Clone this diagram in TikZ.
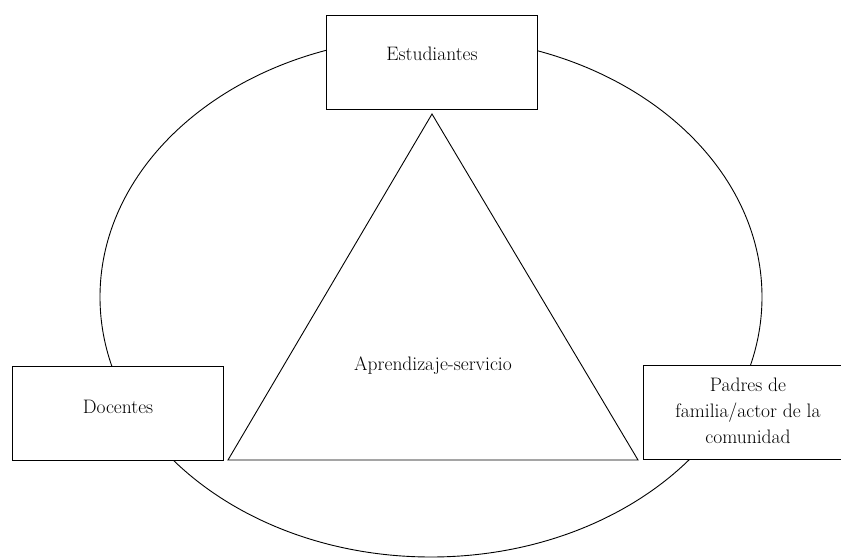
\documentclass[tikz,border=0pt]{standalone}
\usetikzlibrary{shapes.geometric}
\begin{document}
\begin{tikzpicture}[x=1pt,y=-1pt,
  boxstyle/.style={draw=black, line width=1.1pt, fill=white, rectangle, minimum width=211pt, minimum height=94pt, inner sep=0pt, anchor=north west},
  txt/.style={font=\fontsize{19.5}{26}\selectfont, inner sep=0pt, align=center},
  thin/.style={line width=0.9pt}]
\useasboundingbox (0,0) rectangle (841,559);
\begin{scope}
\clip (0,0) rectangle (841,559);
\node[draw, thin, ellipse, minimum width=662pt, minimum height=520pt, inner sep=0pt] (ell) at (431,297) {};
\coordinate (apex) at (432,114);
\coordinate (bl) at (228,460);
\coordinate (br) at (638,460);
\draw[thin, line join=miter] (apex) -- (bl) -- (br) -- cycle;
\node[boxstyle] (est) at (326,15) {};
\node[boxstyle] (doc) at (12,366) {};
\node[boxstyle] (pad) at (643,365) {};
\node[txt] (testu) at (432,54) {Estudiantes};
\node[txt] (tdoc) at (118,407) {Docentes};
\node[txt] (tpad) at (748,411) {Padres de\\familia/actor de la\\comunidad};
\node[txt] (tap) at (433,366) {Aprendizaje-servicio};
\end{scope}
\end{tikzpicture}
\end{document}
